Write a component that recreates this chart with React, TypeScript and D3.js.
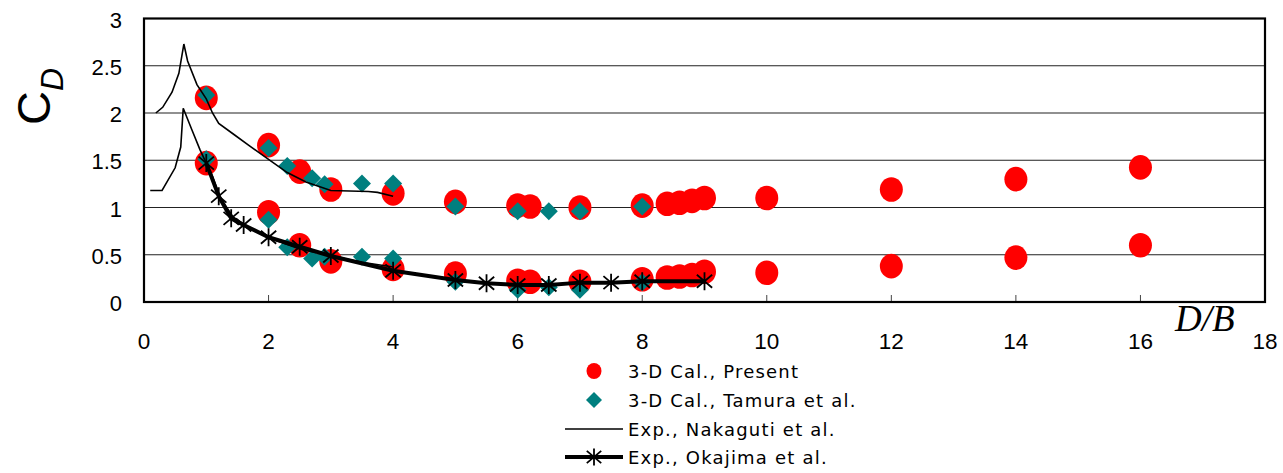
import React from "react";
import * as d3 from "d3";

// Drag coefficient C_D against aspect ratio D/B
const presentUpperX = [1, 2, 2.5, 3, 4, 5, 6, 6.2, 7, 8, 8.4, 8.6, 8.8, 9, 10, 12, 14, 16];
const presentUpperY = [2.16, 1.66, 1.38, 1.19, 1.15, 1.06, 1.02, 1.01, 1.0, 1.02, 1.04, 1.05, 1.07, 1.1, 1.1, 1.19, 1.3, 1.425];
const presentLowerX = [1, 2, 2.5, 3, 4, 5, 6, 6.2, 7, 8, 8.4, 8.6, 8.8, 9, 10, 12, 14, 16];
const presentLowerY = [1.47, 0.95, 0.6, 0.43, 0.35, 0.3, 0.225, 0.215, 0.215, 0.24, 0.26, 0.27, 0.285, 0.32, 0.31, 0.38, 0.47, 0.6];

const tamuraUpperX = [1, 2, 2.3, 2.7, 2.9, 3.5, 4, 5, 6, 6.5, 7, 8];
const tamuraUpperY = [2.19, 1.63, 1.44, 1.31, 1.245, 1.255, 1.255, 1.01, 0.96, 0.96, 0.96, 1.01];
const tamuraLowerX = [1, 2, 2.3, 2.7, 2.9, 3.5, 4, 5, 6, 6.5, 7, 8];
const tamuraLowerY = [1.51, 0.87, 0.58, 0.46, 0.48, 0.48, 0.46, 0.215, 0.13, 0.155, 0.13, 0.21];

const nakagutiUpperX = [0.19, 0.3, 0.45, 0.56, 0.64, 0.7, 0.85, 1.0, 1.1, 1.2, 1.45, 1.7, 2.0, 2.3, 2.6, 3.0, 3.6, 3.75, 4.0];
const nakagutiUpperY = [2.0, 2.06, 2.22, 2.42, 2.73, 2.55, 2.3, 2.15, 2.0, 1.89, 1.77, 1.65, 1.51, 1.37, 1.27, 1.18, 1.17, 1.16, 1.12];
const nakagutiLowerX = [0.1, 0.29, 0.5, 0.59, 0.63, 0.77, 0.9, 1.0, 1.1, 1.22, 1.43, 1.7, 2.0, 2.5, 3.0, 3.5, 4.0];
const nakagutiLowerY = [1.18, 1.18, 1.42, 1.64, 2.05, 1.82, 1.61, 1.47, 1.33, 1.11, 0.9, 0.78, 0.68, 0.56, 0.49, 0.42, 0.37];

const okajimaX = [1, 1.2, 1.4, 1.6, 2, 2.5, 3, 4, 5, 5.5, 6, 6.5, 7, 7.5, 8, 9];
const okajimaY = [1.47, 1.12, 0.885, 0.815, 0.685, 0.585, 0.487, 0.33, 0.233, 0.198, 0.18, 0.18, 0.205, 0.205, 0.22, 0.22];

const xTicks = [0, 2, 4, 6, 8, 10, 12, 14, 16, 18];
const yTicks = [0, 0.5, 1, 1.5, 2, 2.5, 3];
const yTickLabels = ["0", "0.5", "1", "1.5", "2", "2.5", "3"];

const legendLabels = [
  "3-D Cal., Present",
  "3-D Cal., Tamura et al.",
  "Exp., Nakaguti et al.",
  "Exp., Okajima et al.",
];

const W = 1283;
const H = 473;
const RED = "#ff0000";
const TEAL = "#007f7f";
const FONT = "'Liberation Sans', Arial, sans-serif";
const LEGEND_FONT = "'DejaVu Sans', sans-serif";

const zip = (xs: number[], ys: number[]) => xs.map((x, i) => [x, ys[i]] as [number, number]);

function asteriskPath(s: number) {
  const dx = s * 0.85;
  const dy = s * 0.72;
  return `M0,${-s}L0,${s}M${-dx},${-dy}L${dx},${dy}M${-dx},${dy}L${dx},${-dy}`;
}

function diamondPath(s: number) {
  return `M0,${-s}L${s},0L0,${s}L${-s},0Z`;
}

export default function App() {
  const left = 144;
  const right = 1265;
  const top = 18.5;
  const bottom = 302;

  const x = d3.scaleLinear().domain([0, 18]).range([left, right]);
  const y = d3.scaleLinear().domain([0, 3]).range([bottom, top]);

  const line = d3
    .line<[number, number]>()
    .x((d) => x(d[0]))
    .y((d) => y(d[1]));

  const present = [...zip(presentUpperX, presentUpperY), ...zip(presentLowerX, presentLowerY)];
  const tamura = [...zip(tamuraUpperX, tamuraUpperY), ...zip(tamuraLowerX, tamuraLowerY)];
  const okajima = zip(okajimaX, okajimaY);

  const legX = 594;
  const legTextX = 628;
  const legY = [371, 400, 429, 457];

  return (
    <svg
      width={W}
      height={H}
      style={{ position: "absolute", left: 0, top: 0, background: "#fff" }}
      fontFamily={FONT}
    >
      <rect x={0} y={0} width={W} height={H} fill="#fff" />

      {/* horizontal gridlines */}
      {yTicks
        .filter((t) => t > 0 && t < 3)
        .map((t) => (
          <line key={t} x1={left} x2={right} y1={y(t)} y2={y(t)} stroke="#222" strokeWidth={1.2} />
        ))}

      {/* x tick marks inside the plot */}
      {xTicks
        .filter((t) => t > 0 && t < 18)
        .map((t) => (
          <line key={t} x1={x(t)} x2={x(t)} y1={bottom} y2={bottom - 7} stroke="#444" strokeWidth={1} />
        ))}

      {/* plot frame */}
      <rect x={left} y={top} width={right - left} height={bottom - top} fill="none" stroke="#000" strokeWidth={2.2} />

      {/* 3-D Cal., Present */}
      {present.map((d, i) => (
        <ellipse key={i} cx={x(d[0])} cy={y(d[1])} rx={11.5} ry={12.3} fill={RED} />
      ))}

      {/* 3-D Cal., Tamura et al. */}
      {tamura.map((d, i) => (
        <path key={i} d={diamondPath(9)} transform={`translate(${x(d[0])},${y(d[1])})`} fill={TEAL} />
      ))}

      {/* Exp., Nakaguti et al. */}
      <path d={line(zip(nakagutiUpperX, nakagutiUpperY)) || ""} fill="none" stroke="#000" strokeWidth={1.6} />
      <path d={line(zip(nakagutiLowerX, nakagutiLowerY)) || ""} fill="none" stroke="#000" strokeWidth={1.6} />

      {/* Exp., Okajima et al. */}
      <path d={line(okajima) || ""} fill="none" stroke="#000" strokeWidth={4} strokeLinejoin="round" />
      {okajima.map((d, i) => (
        <path
          key={i}
          d={asteriskPath(9)}
          transform={`translate(${x(d[0])},${y(d[1])})`}
          fill="none"
          stroke="#000"
          strokeWidth={1.8}
        />
      ))}

      {/* y tick labels */}
      {yTicks.map((t, i) => (
        <text key={t} x={122} y={y(t) + 9} textAnchor="end" fontSize={22} fill="#000">
          {yTickLabels[i]}
        </text>
      ))}

      {/* x tick labels */}
      {xTicks.map((t) => (
        <text key={t} x={x(t)} y={349} textAnchor="middle" fontSize={22.5} fill="#000">
          {t}
        </text>
      ))}

      {/* axis titles */}
      <text x={1175} y={331} fontFamily="'Liberation Serif', 'Times New Roman', serif" fontStyle="italic" fontSize={37}>
        D/B
      </text>
      <text transform="translate(50,125) rotate(-90)" fontSize={47}>
        <tspan>C</tspan>
        <tspan dy={13} fontSize={32} fontStyle="italic">
          D
        </tspan>
      </text>

      {/* legend */}
      <ellipse cx={legX} cy={legY[0]} rx={7.5} ry={8} fill={RED} />
      <path d={diamondPath(8)} transform={`translate(${legX},${legY[1]})`} fill={TEAL} />
      <line x1={565} x2={623} y1={legY[2]} y2={legY[2]} stroke="#000" strokeWidth={1.6} />
      <line x1={565} x2={623} y1={legY[3]} y2={legY[3]} stroke="#000" strokeWidth={4} />
      <path d={asteriskPath(8.5)} transform={`translate(${legX},${legY[3]})`} fill="none" stroke="#000" strokeWidth={1.8} />
      {legendLabels.map((l, i) => (
        <text
          key={l}
          x={legTextX}
          y={legY[i] + 7}
          fontFamily={LEGEND_FONT}
          fontSize={18}
          letterSpacing={1.2}
          fill="#000"
        >
          {l}
        </text>
      ))}
    </svg>
  );
}
